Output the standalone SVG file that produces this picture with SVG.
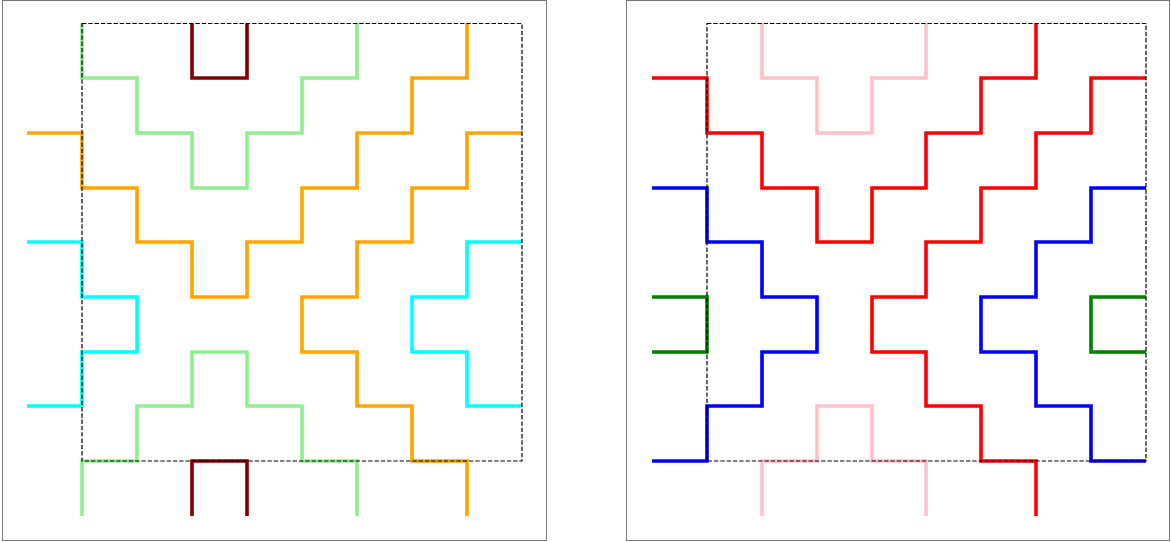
<svg xmlns="http://www.w3.org/2000/svg" width="1171" height="542" viewBox="0 0 1171 542">
<style>
.frame{fill:none;stroke:#777;stroke-width:1}
.p{fill:none;stroke-width:3.6;stroke-linejoin:miter;stroke-linecap:butt}
.maroon{stroke:#800000}
.lg{stroke:#90EE90}
.or{stroke:#FFA500}
.cy{stroke:#00FFFF}
.pk{stroke:#FFC0CB}
.rd{stroke:#FF0000}
.bl{stroke:#0000FF}
.gr{stroke:#008000}
.dash{fill:none;stroke:#000;stroke-width:1.2;stroke-dasharray:4.4,1.9}
</style>
<rect width="1171" height="542" fill="#fff"/>
<g id="frames">
<rect class="frame" x="2.5" y="0.5" width="544" height="540"/>
<rect class="frame" x="626.5" y="0.5" width="543" height="540"/>
</g>
<g id="left-panel">
<polyline id="L-maroon-top" class="p maroon" points="192,23.5 192,78 247,78 247,23.5"/>
<polyline id="L-maroon-bottom" class="p maroon" points="192,516 192,461 247,461 247,516"/>
<polyline id="L-green-top" class="p lg" points="82,23.5 82,78 137,78 137,133 192,133 192,188 247,188 247,133 302,133 302,78 357,78 357,23.5"/>
<polyline id="L-green-bottom" class="p lg" points="82,516 82,461 137,461 137,406 192,406 192,352 247,352 247,406 302,406 302,461 357,461 357,516"/>
<polyline id="L-orange-1" class="p or" points="27,133 82,133 82,188 137,188 137,242 192,242 192,297 247,297 247,242 302,242 302,188 357,188 357,133 412,133 412,78 467,78 467,23.5"/>
<polyline id="L-orange-2" class="p or" points="522,133 467,133 467,188 412,188 412,242 357,242 357,297 302,297 302,352 357,352 357,406 412,406 412,461 467,461 467,516"/>
<polyline id="L-cyan-left" class="p cy" points="27,242 82,242 82,297 137,297 137,352 82,352 82,406 27,406"/>
<polyline id="L-cyan-right" class="p cy" points="522,242 467,242 467,297 412,297 412,352 467,352 467,406 522,406"/>
<rect id="L-box" class="dash" x="82" y="23.5" width="440" height="437.5"/>
</g>
<g id="right-panel">
<polyline id="R-pink-top" class="p pk" points="762,23.5 762,78 817,78 817,133 872,133 872,78 926,78 926,23.5"/>
<polyline id="R-pink-bottom" class="p pk" points="762,516 762,461 817,461 817,406 872,406 872,461 926,461 926,516"/>
<polyline id="R-red-1" class="p rd" points="652,78 707,78 707,133 762,133 762,188 817,188 817,242 872,242 872,188 926,188 926,133 981,133 981,78 1036,78 1036,23.5"/>
<polyline id="R-red-2" class="p rd" points="1146,78 1091,78 1091,133 1036,133 1036,188 981,188 981,242 926,242 926,297 872,297 872,352 926,352 926,406 981,406 981,461 1036,461 1036,516"/>
<polyline id="R-blue-1" class="p bl" points="652,188 707,188 707,242 762,242 762,297 817,297 817,352 762,352 762,406 707,406 707,461 652,461"/>
<polyline id="R-blue-2" class="p bl" points="1146,188 1091,188 1091,242 1036,242 1036,297 981,297 981,352 1036,352 1036,406 1091,406 1091,461 1146,461"/>
<polyline id="R-green-left" class="p gr" points="652,297 707,297 707,352 652,352"/>
<polyline id="R-green-right" class="p gr" points="1146,297 1091,297 1091,352 1146,352"/>
<rect id="R-box" class="dash" x="707" y="23.5" width="439" height="437.5"/>
</g>
</svg>
